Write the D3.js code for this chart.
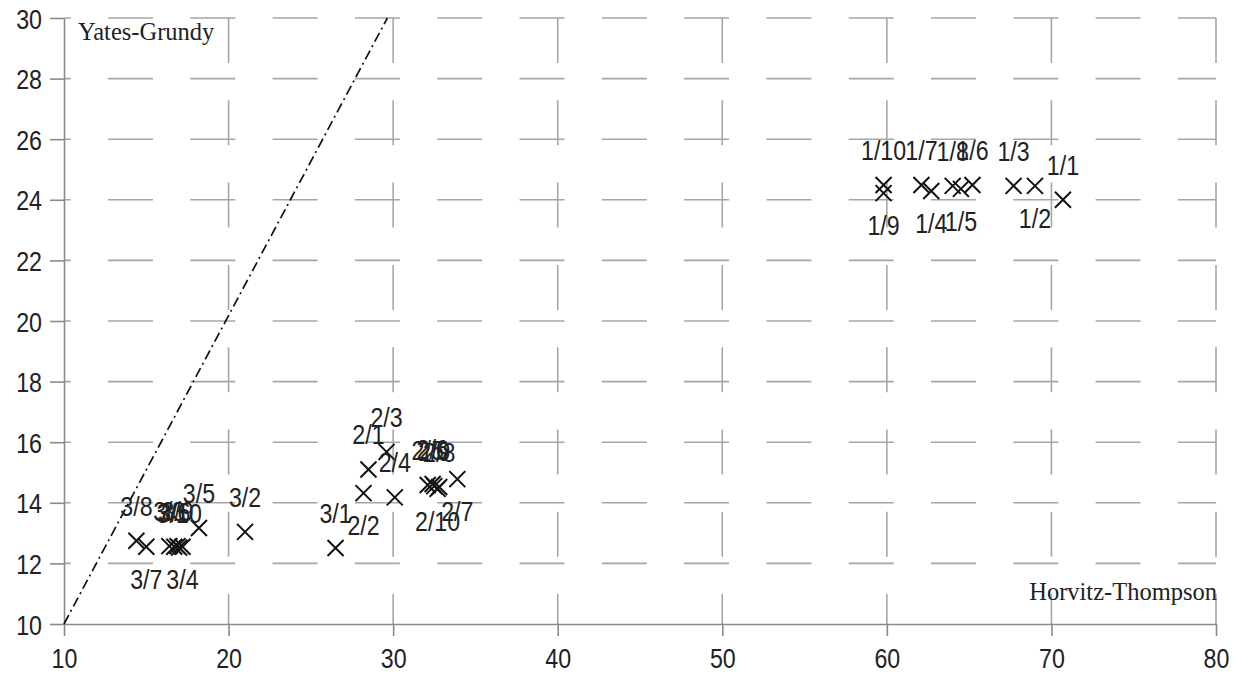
<!DOCTYPE html>
<html><head><meta charset="utf-8">
<script src="https://cdn.jsdelivr.net/npm/d3@7/dist/d3.min.js"></script>
<style>
html,body{margin:0;padding:0;background:#fff;}
svg{display:block;}
</style>
</head><body>
<svg id="chart" width="1239" height="675"></svg>
<script>
// ---- data ----
const pointLabels = [
  "1/1","1/2","1/3","1/4","1/5","1/6","1/7","1/8","1/9","1/10",
  "2/1","2/2","2/3","2/4","2/5","2/6","2/7","2/8","2/9","2/10",
  "3/1","3/2","3/3","3/4","3/5","3/6","3/7","3/8","3/9","3/10"
];
const htValues = [
  70.7, 69.0, 67.7, 62.7, 64.5, 65.2, 62.1, 64.0, 59.8, 59.8,
  28.5, 28.2, 29.6, 30.1, 32.1, 32.4, 33.9, 32.8, 32.5, 32.7,
  26.5, 21.0, 16.4, 17.2, 18.2, 16.7, 15.0, 14.4, 16.9, 17.0
];
const ygValues = [
  24.0, 24.46, 24.46, 24.29, 24.36, 24.49, 24.49, 24.46, 24.22, 24.49,
  15.1, 14.32, 15.68, 14.18, 14.59, 14.62, 14.78, 14.52, 14.55, 14.46,
  12.51, 13.04, 12.57, 12.55, 13.17, 12.55, 12.55, 12.75, 12.57, 12.52
];
const labelSide = [
  "above","below","above","below","below","above","above","above","below","above",
  "above","below","above","above","above","above","below","above","above","below",
  "above","above","above","below","above","above","below","above","above","above"
];
const xTicks = [10, 20, 30, 40, 50, 60, 70, 80];
const yTicks = [10, 12, 14, 16, 18, 20, 22, 24, 26, 28, 30];
const refLineX = [10, 29.65];
const refLineY = [10, 30];
const xTitle = "Horvitz-Thompson";
const yTitle = "Yates-Grundy";

// ---- layout ----
const W = 1239, H = 675;
const mLeft = 64, mRight = 1216, mTop = 18, mBottom = 624;
const sansScale = 0.86;
const sansFont = "'Liberation Sans', Arial, sans-serif";
const serifFont = "'Liberation Serif', 'Times New Roman', serif";
const gridColor = "#a6a6a6";
const axisColor = "#8a8a8a";

const svg = d3.select("#chart");
svg.append("rect").attr("width", W).attr("height", H).attr("fill", "#fff");

const x = d3.scaleLinear().domain([10, 80]).range([mLeft, mRight]);
const y = d3.scaleLinear().domain([10, 30]).range([mBottom, mTop]);

// grid
const grid = svg.append("g");
grid.selectAll("line.v").data(xTicks.slice(1)).join("line").attr("class", "v")
  .attr("x1", d => x(d)).attr("x2", d => x(d))
  .attr("y1", mTop).attr("y2", mBottom)
  .attr("stroke", gridColor).attr("stroke-width", 1.6)
  .attr("stroke-dasharray", "45 37.3");
grid.selectAll("line.h").data(yTicks.slice(1)).join("line").attr("class", "h")
  .attr("x1", mLeft).attr("x2", mRight)
  .attr("y1", d => y(d)).attr("y2", d => y(d))
  .attr("stroke", gridColor).attr("stroke-width", 1.6)
  .attr("stroke-dasharray", "45 37.3")
  .attr("stroke-dashoffset", 38.3);

// axes
function styleAxis(g) {
  g.select(".domain").attr("stroke", axisColor).attr("stroke-width", 1.6);
  g.selectAll(".tick line").attr("stroke", axisColor).attr("stroke-width", 1.6);
  g.selectAll(".tick text")
    .attr("fill", "#222")
    .style("font-family", sansFont)
    .style("font-size", "27px");
}
const gy = svg.append("g").attr("transform", `translate(${mLeft},0)`)
  .call(d3.axisLeft(y).tickValues(yTicks).tickSize(14).tickSizeOuter(0).tickPadding(8).tickFormat(d3.format("d")));
styleAxis(gy);
gy.selectAll(".tick text").each(function() {
  const t = d3.select(this);
  const tx = +t.attr("x");
  t.attr("x", 0).attr("dy", null).attr("y", 10)
   .attr("transform", `translate(${tx},0) scale(${sansScale},1)`);
});

const gx = svg.append("g").attr("transform", `translate(0,${mBottom})`)
  .call(d3.axisBottom(x).tickValues(xTicks).tickSize(12).tickSizeOuter(0).tickFormat(d3.format("d")));
styleAxis(gx);
gx.selectAll(".tick text").each(function() {
  const t = d3.select(this);
  t.attr("y", 0).attr("dy", null)
   .attr("transform", `translate(0,44) scale(${sansScale},1)`);
});

// reference line (dash-dot)
svg.append("line")
  .attr("x1", x(refLineX[0])).attr("y1", y(refLineY[0]))
  .attr("x2", x(refLineX[1])).attr("y2", y(refLineY[1]))
  .attr("stroke", "#111").attr("stroke-width", 1.7)
  .attr("stroke-dasharray", "10 4 2 4");

// titles inside plot
svg.append("text").attr("x", 78).attr("y", 40).text(yTitle)
  .attr("fill", "#222")
  .style("font-family", serifFont)
  .style("font-size", "24.5px");
svg.append("text").attr("x", 1217).attr("y", 600).text(xTitle)
  .attr("text-anchor", "end").attr("fill", "#222")
  .style("font-family", serifFont)
  .style("font-size", "24.5px");

// points
const pts = pointLabels.map((l, i) => ({label: l, hx: htValues[i], yg: ygValues[i], side: labelSide[i]}));
const pg = svg.append("g");
pg.selectAll("path").data(pts).join("path")
  .attr("transform", d => `translate(${x(d.hx)},${y(d.yg)})`)
  .attr("d", "M-8,-8L8,8M-8,8L8,-8")
  .attr("stroke", "#111").attr("stroke-width", 2).attr("fill", "none");

pg.selectAll("text").data(pts).join("text")
  .attr("transform", d => `translate(${x(d.hx)},${y(d.yg) + (d.side === "above" ? -25 : 42)}) scale(${sansScale},1)`)
  .attr("text-anchor", "middle")
  .attr("fill", "#222")
  .style("font-family", sansFont)
  .style("font-size", "27px")
  .text(d => d.label);
</script>
</body></html>
